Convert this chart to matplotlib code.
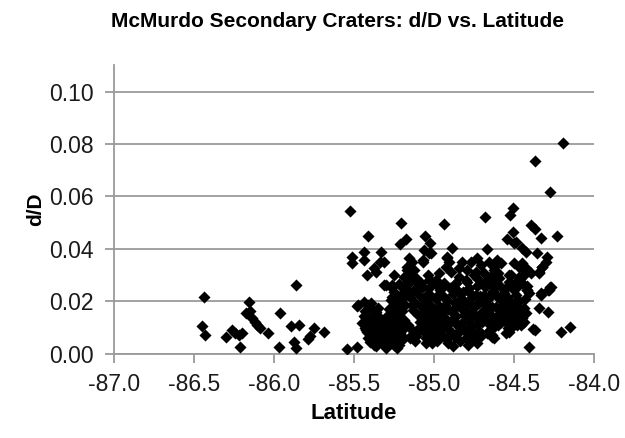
import matplotlib
matplotlib.use("Agg")
from matplotlib import pyplot as plt
import numpy as np

plt.rcParams['font.family'] = ['Liberation Sans', 'DejaVu Sans']

# sparse points, western group (lat < -85.6)
west_lat = [-86.437, -86.448, -86.433, -86.30, -86.26, -86.244, -86.22, -86.20,
            -86.21, -86.156, -86.15, -86.177, -86.135, -86.12, -86.104, -86.087,
            -86.04, -85.96, -85.97, -85.864, -85.896, -85.844, -85.875, -85.864,
            -85.79, -85.775, -85.75, -85.69]
west_dd = [0.0218, 0.0107, 0.0072, 0.0064, 0.0091, 0.0079, 0.0072, 0.0081,
           0.0025, 0.0199, 0.0165, 0.0155, 0.0136, 0.0123, 0.0110, 0.0098,
           0.0081, 0.0157, 0.0028, 0.0263, 0.0107, 0.0109, 0.0047, 0.0022,
           0.0056, 0.0069, 0.0100, 0.0085]

# readable points of the eastern group
east_lat = [-85.546, -85.479, -85.479, -85.51, -85.51, -85.524, -85.41, -85.44,
            -85.437, -85.33, -85.375, -85.34, -85.31, -85.42, -85.365, -85.204,
            -85.177, -85.21, -85.157, -85.135, -85.056, -85.025, -84.937, -84.885,
            -84.917, -85.02, -85.07, -85.475, -85.25, -85.167, -85.30, -85.26,
            -85.146, -85.104, -85.03, -84.97, -84.98, -84.94, -85.146, -85.375,
            -84.191, -84.37, -84.277, -84.504, -84.525, -84.68, -84.396, -84.37,
            -84.333, -84.229, -84.504, -84.546, -84.50, -84.666, -84.447, -84.427,
            -84.358, -84.296, -84.323, -84.344, -84.275, -84.288, -84.333, -84.344,
            -84.29, -84.38, -84.37, -84.208, -84.15, -84.406, -84.53, -84.52,
            -84.479, -84.447, -84.416, -84.469, -84.437, -84.52,
            -85.312, -85.26, -85.25, -85.208, -85.156, -85.114, -85.094, -85.396,
            -85.396, -85.364, -85.354, -85.385, -85.427, -85.437, -85.416, -85.396,
            -85.406, -85.427, -85.364, -85.344, -85.354, -85.323, -85.302, -85.281,
            -85.271, -85.26, -85.271, -85.26, -85.271, -85.25, -85.26, -85.24,
            -85.25, -85.23, -85.218, -85.208, -85.218, -85.208, -85.198, -85.208,
            -85.218, -85.312, -85.302, -85.375, -85.135, -85.083, -85.073, -85.083,
            -85.073, -85.094, -85.167, -85.187,
            -84.531, -84.60, -84.625, -84.50, -84.469, -84.447, -84.427, -84.396,
            -84.344, -84.323, -84.302, -84.489, -84.479, -84.447, -84.416, -84.406,
            -84.333, -84.281, -84.27, -84.625, -84.635, -84.562, -84.541, -84.594,
            -84.552, -84.52, -84.489, -84.479, -84.50, -84.458, -84.437, -84.427,
            -84.583, -84.604, -84.562, -84.541, -84.52, -84.469, -84.458, -84.635,
            -84.625,
            -85.06, -85.03, -85.07, -85.167, -85.125, -84.917, -84.906, -84.927,
            -84.823, -84.77, -84.729, -84.708, -84.656, -84.604, -84.583, -84.625,
            -84.844, -84.792, -84.74, -84.687, -84.729, -84.666, -84.594, -84.531,
            -84.896, -84.844, -84.792, -84.865, -85.187, -85.114, -85.083, -85.01,
            -84.94, -84.489]
east_dd = [0.0018, 0.0028, 0.0184, 0.0370, 0.0345, 0.0545, 0.0450, 0.0390,
           0.0358, 0.0390, 0.0326, 0.0352, 0.0352, 0.0301, 0.0314, 0.0498,
           0.0437, 0.0418, 0.0365, 0.0352, 0.0450, 0.0422, 0.0494, 0.0405,
           0.0365, 0.0384, 0.0352, 0.0187, 0.0301, 0.0320, 0.0263, 0.0256,
           0.0288, 0.0275, 0.0282, 0.0307, 0.0263, 0.0263, 0.0069, 0.0034,
           0.0805, 0.0736, 0.0616, 0.0557, 0.0530, 0.0523, 0.0491, 0.0475,
           0.0441, 0.0450, 0.0466, 0.0437, 0.0422, 0.0399, 0.0403, 0.0390,
           0.0386, 0.0368, 0.0333, 0.0307, 0.0256, 0.0244, 0.0225, 0.0174,
           0.0161, 0.0094, 0.0091, 0.0085, 0.0104, 0.0025, 0.0085, 0.0104,
           0.0161, 0.0168, 0.0244, 0.0294, 0.0320, 0.0301,
           0.0263, 0.0263, 0.0237, 0.0225, 0.0269, 0.0250, 0.0269, 0.0193,
           0.0174, 0.0161, 0.0149, 0.0142, 0.0136, 0.0117, 0.0104, 0.0117,
           0.0085, 0.0091, 0.0117, 0.0104, 0.0079, 0.0072, 0.0066, 0.0079,
           0.0206, 0.0180, 0.0155, 0.0136, 0.0117, 0.0098, 0.0079, 0.0060,
           0.0034, 0.0022, 0.0193, 0.0168, 0.0142, 0.0117, 0.0091, 0.0060,
           0.0034, 0.0034, 0.0022, 0.0041, 0.0072, 0.0218, 0.0180, 0.0142,
           0.0117, 0.0091, 0.0231, 0.0218,
           0.0301, 0.0307, 0.0333, 0.0345, 0.0333, 0.0345, 0.0326, 0.0307,
           0.0314, 0.0333, 0.0352, 0.0275, 0.0256, 0.0269, 0.0244, 0.0231,
           0.0231, 0.0244, 0.0256, 0.0256, 0.0231, 0.0231, 0.0218, 0.0212,
           0.0193, 0.0199, 0.0199, 0.0180, 0.0168, 0.0161, 0.0174, 0.0155,
           0.0155, 0.0136, 0.0130, 0.0117, 0.0098, 0.0130, 0.0110, 0.0072,
           0.0060,
           0.0396, 0.0384, 0.0358, 0.0333, 0.0320, 0.0371, 0.0352, 0.0333,
           0.0352, 0.0352, 0.0365, 0.0339, 0.0352, 0.0358, 0.0345, 0.0320,
           0.0326, 0.0320, 0.0314, 0.0307, 0.0288, 0.0282, 0.0288, 0.0275,
           0.0314, 0.0294, 0.0275, 0.0269, 0.0294, 0.0288, 0.0269, 0.0275,
           0.0269, 0.0428]

# the dense core, estimated column by column
core_lat = [-85.44, -85.43, -85.42, -85.41, -85.40, -85.39, -85.38, -85.37, -85.36, -85.35,
            -85.34, -85.33, -85.42, -85.45, -85.38, -85.35, -85.33, -85.40, -85.36, -85.31,
            -85.44, -85.41, -85.30, -85.29,
            -85.27, -85.24, -85.22, -85.26, -85.23, -85.21, -85.25, -85.22, -85.20, -85.19,
            -85.24, -85.27, -85.23, -85.21,
            -85.17, -85.15, -85.13, -85.12, -85.16, -85.14, -85.11, -85.10, -85.13, -85.18,
            -85.15, -85.09, -85.12, -85.17,
            -85.07, -85.06, -85.05, -85.04, -85.03, -85.02, -85.06, -85.05, -85.04, -85.03,
            -85.02, -85.01, -85.00, -84.99, -85.00, -84.99, -84.98, -84.97, -84.98, -84.96,
            -84.97, -84.96, -85.01, -85.08, -85.07, -84.99, -85.04, -84.95,
            -84.94, -84.93, -84.92, -84.91, -84.90, -84.89, -84.88, -84.87, -84.86, -84.85,
            -84.84, -84.93, -84.88, -84.86, -84.84, -84.90, -84.83, -84.91, -84.87, -84.95,
            -84.82, -84.81, -84.80, -84.79, -84.78, -84.77, -84.76, -84.80, -84.78, -84.76,
            -84.75, -84.74, -84.73, -84.72, -84.71, -84.74, -84.72, -84.70, -84.82, -84.81,
            -84.79, -84.75, -84.71, -84.77, -84.73, -84.70,
            -84.69, -84.68, -84.67, -84.66, -84.65, -84.64, -84.68, -84.66, -84.65, -84.63,
            -84.62, -84.61, -84.60, -84.59, -84.58, -84.67, -84.62, -84.64,
            -84.57, -84.56, -84.55, -84.54, -84.53, -84.51, -84.50, -84.49, -84.47, -84.46,
            -84.45, -84.44, -84.43, -84.55, -84.48, -84.42]
core_dd = [0.0145, 0.0098, 0.0125, 0.0062, 0.0135, 0.0102, 0.0088, 0.0128, 0.0095, 0.0058,
           0.0122, 0.0105, 0.0082, 0.0118, 0.0148, 0.0175, 0.0052, 0.0047, 0.0030, 0.0092,
           0.0196, 0.0188, 0.0140, 0.0110,
           0.0255, 0.0225, 0.0268, 0.0162, 0.0148, 0.0078, 0.0055, 0.0045, 0.0255, 0.0128,
           0.0108, 0.0042, 0.0190, 0.0210,
           0.0245, 0.0215, 0.0235, 0.0195, 0.0112, 0.0090, 0.0068, 0.0150, 0.0168, 0.0185,
           0.0062, 0.0120, 0.0082, 0.0300,
           0.0255, 0.0205, 0.0162, 0.0128, 0.0098, 0.0072, 0.0085, 0.0060, 0.0230, 0.0188,
           0.0145, 0.0115, 0.0090, 0.0065, 0.0165, 0.0210, 0.0138, 0.0105, 0.0050, 0.0080,
           0.0182, 0.0245, 0.0042, 0.0140, 0.0112, 0.0280, 0.0300, 0.0155,
           0.0215, 0.0185, 0.0125, 0.0095, 0.0070, 0.0160, 0.0230, 0.0195, 0.0115, 0.0085,
           0.0050, 0.0060, 0.0030, 0.0145, 0.0210, 0.0250, 0.0175, 0.0040, 0.0265, 0.0100,
           0.0235, 0.0200, 0.0165, 0.0130, 0.0100, 0.0075, 0.0055, 0.0280, 0.0250, 0.0215,
           0.0180, 0.0145, 0.0115, 0.0088, 0.0065, 0.0225, 0.0195, 0.0160, 0.0120, 0.0090,
           0.0035, 0.0300, 0.0270, 0.0155, 0.0040, 0.0120,
           0.0225, 0.0190, 0.0155, 0.0120, 0.0090, 0.0065, 0.0255, 0.0210, 0.0175, 0.0140,
           0.0105, 0.0180, 0.0215, 0.0150, 0.0120, 0.0080, 0.0270, 0.0300,
           0.0165, 0.0140, 0.0250, 0.0100, 0.0160, 0.0125, 0.0140, 0.0225, 0.0200, 0.0285,
           0.0135, 0.0300, 0.0210, 0.0080, 0.0110, 0.0260]

# more of the dense core, filling the blackest parts
core2_lat = [-85.43, -85.41, -85.39, -85.37, -85.35, -85.32, -85.29, -85.28,
             -85.26, -85.25, -85.23, -85.20, -85.19, -85.22,
             -85.16, -85.14, -85.11, -85.10, -85.12,
             -85.06, -85.05, -85.04, -85.03, -85.02, -85.01, -85.00, -84.99, -84.98, -84.97,
             -84.96, -85.05, -84.98,
             -84.94, -84.93, -84.92, -84.91, -84.90, -84.89, -84.88, -84.87, -84.86, -84.85,
             -84.84, -84.83,
             -84.81, -84.80, -84.79, -84.78, -84.77, -84.76, -84.75, -84.74, -84.73, -84.72,
             -84.71, -84.70,
             -84.69, -84.67, -84.66, -84.64, -84.63, -84.61, -84.60, -84.59,
             -84.57, -84.56, -84.54, -84.52, -84.51, -84.48, -84.46, -84.44]
core2_dd = [0.0165, 0.0108, 0.0072, 0.0155, 0.0130, 0.0115, 0.0080, 0.0170,
            0.0215, 0.0140, 0.0088, 0.0165, 0.0060, 0.0125,
            0.0270, 0.0185, 0.0240, 0.0095, 0.0050,
            0.0160, 0.0110, 0.0075, 0.0250, 0.0220, 0.0180, 0.0125, 0.0150, 0.0095, 0.0230,
            0.0130, 0.0040, 0.0265,
            0.0140, 0.0105, 0.0205, 0.0170, 0.0120, 0.0080, 0.0130, 0.0065, 0.0180, 0.0240,
            0.0110, 0.0090,
            0.0150, 0.0060, 0.0195, 0.0135, 0.0230, 0.0110, 0.0080, 0.0185, 0.0260, 0.0130,
            0.0220, 0.0200,
            0.0150, 0.0120, 0.0275, 0.0180, 0.0240, 0.0140, 0.0110, 0.0260,
            0.0220, 0.0190, 0.0175, 0.0145, 0.0250, 0.0180, 0.0150, 0.0120]

lat = west_lat + east_lat + core_lat + core2_lat
dd = west_dd + east_dd + core_dd + core2_dd

xticks = np.arange(-87.0, -83.99, 0.5)
yticks = np.arange(0.0, 0.101, 0.02)

fig = plt.figure(figsize=(6.25, 4.38), dpi=100)
ax = fig.add_axes([0.1824, 0.192, 0.768, 0.659])

ax.scatter(lat, dd, marker='D', s=38, color='black', linewidths=0, zorder=3)

ax.set_xlim(-87.0, -84.0)
ax.set_ylim(0.0, 0.11)
ax.set_xticks(xticks)
ax.set_yticks(yticks)
ax.set_xticklabels(['%.1f' % v for v in xticks])
ax.set_yticklabels(['%.2f' % v for v in yticks])
ax.yaxis.grid(True, color='#9a9a9a', linewidth=1.3, zorder=1)
ax.set_axisbelow(True)

for s in ['top', 'right']:
    ax.spines[s].set_visible(False)
for s in ['left', 'bottom']:
    ax.spines[s].set_color('#9a9a9a')
    ax.spines[s].set_linewidth(1.3)
ax.tick_params(axis='both', direction='out', length=6.5, width=1.3, color='#9a9a9a',
               labelsize=16.5, labelcolor='#1a1a1a')
ax.tick_params(axis='y', pad=8)
ax.tick_params(axis='x', pad=7)

fig.text(0.54, 0.952, 'McMurdo Secondary Craters: d/D vs. Latitude', fontsize=15,
         fontweight='bold', ha='center', va='center')
ax.set_xlabel('Latitude', fontsize=16, fontweight='bold', labelpad=5)
ax.set_ylabel('d/D', fontsize=15, fontweight='bold', labelpad=3)

fig.savefig('out.png', dpi=100)
